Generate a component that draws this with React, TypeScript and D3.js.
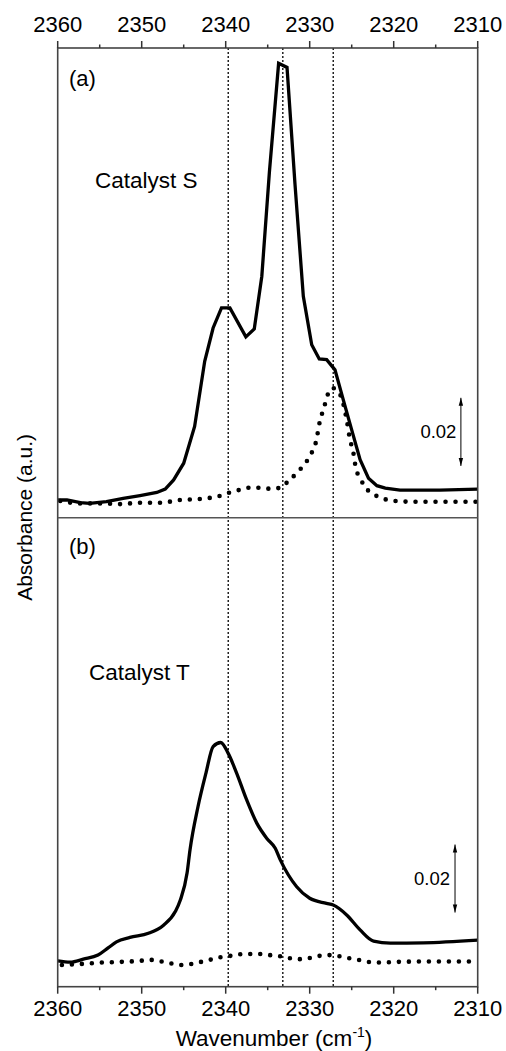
import * as d3 from "d3";

const width = 506,
  height = 1051;
const frame = { left: 57.7, right: 477.7, top: 48, mid: 517.7, bottom: 986.7 };
const font = "'Liberation Sans', Arial, sans-serif";

const majorTicks = [2360, 2350, 2340, 2330, 2320, 2310];
const minorTicks = [2355, 2345, 2335, 2325, 2315];
const markerLines = [2339.7, 2333.2, 2327.2];

// (a) Catalyst S - solid
const waveS = [
  2360, 2358.9, 2357.3, 2356.2, 2354.2, 2352.2, 2350.2, 2348.2, 2347.2, 2346.2, 2345.0,
  2343.7, 2342.5, 2341.5, 2340.5, 2339.5, 2337.6, 2336.6, 2335.7, 2334.8, 2333.7, 2332.7,
  2331.75, 2330.76, 2329.76, 2328.86, 2327.98, 2326.99, 2326.0, 2325.0, 2324.0, 2323.0,
  2322.0, 2321.0, 2319.25, 2314.5, 2310,
];
const absS = [
  0.0052, 0.0052, 0.0044, 0.0042, 0.0047, 0.0057, 0.0065, 0.0074, 0.0084, 0.0111, 0.016,
  0.0268, 0.0459, 0.0557, 0.0616, 0.0616, 0.0531, 0.0554, 0.0709, 0.1014, 0.1334, 0.1322,
  0.0979, 0.065, 0.0508, 0.0466, 0.0464, 0.0434, 0.0346, 0.0258, 0.017, 0.0116,
  0.0094, 0.0087, 0.0081, 0.0081, 0.0084,
];
// (a) Catalyst S - dotted
const waveSRef = [
  2359.7, 2357.3, 2355.0, 2352.6, 2350.2, 2347.8, 2345.4, 2343.1, 2340.7, 2339.5, 2338.3,
  2337.1, 2336.0, 2334.7, 2333.5, 2332.6, 2331.4, 2330.4, 2329.7, 2329.25, 2328.8, 2328.3,
  2327.8, 2327.35, 2326.75, 2326.15, 2325.6, 2325.2, 2324.85, 2324.5, 2324.0, 2323.05,
  2322.2, 2321.0, 2319.8, 2318.0, 2310,
];
const absSRef = [
  0.0049, 0.0042, 0.0042, 0.004, 0.0044, 0.0044, 0.0052, 0.0055, 0.0064, 0.0074, 0.0082,
  0.0088, 0.0088, 0.0085, 0.0088, 0.0106, 0.0135, 0.0164, 0.0194, 0.0223, 0.0282, 0.0323,
  0.0365, 0.0381, 0.0374, 0.0347, 0.0288, 0.0229, 0.0197, 0.0145, 0.0116, 0.008,
  0.0066, 0.0054, 0.0049, 0.0047, 0.0047,
];

// (b) Catalyst T - solid
const waveT = [
  2360, 2358.5, 2356.95, 2355.2, 2354.0, 2353.0, 2351.4, 2349.2, 2347.4, 2346.0, 2345.4,
  2344.6, 2344.25, 2343.3, 2342.35, 2341.5, 2340.6, 2339.7, 2338.7, 2337.5, 2336.3, 2335.1,
  2334.1, 2333.5, 2331.55, 2330.0, 2328.0, 2327.2, 2325.6, 2324.0, 2322.4, 2320.4,
  2316.5, 2310,
];
const absT = [
  0.0076, 0.0072, 0.0081, 0.0093, 0.0114, 0.0132, 0.0145, 0.0157, 0.0181, 0.0221, 0.0255,
  0.0334, 0.0402, 0.0529, 0.0628, 0.0706, 0.0718, 0.0686, 0.0628, 0.0549, 0.0481, 0.0436,
  0.0407, 0.0373, 0.0294, 0.026, 0.0245, 0.024, 0.0211, 0.0167, 0.0134, 0.0128,
  0.0129, 0.0137,
];
// (b) Catalyst T - dotted
const waveTRef = [
  2359.5, 2357.1, 2354.8, 2352.4, 2350.2, 2349.0, 2347.8, 2346.6, 2345.4, 2344.25, 2343.1,
  2341.9, 2340.8, 2339.6, 2338.4, 2337.2, 2336.0, 2334.8, 2333.6, 2332.4, 2331.2, 2330.05,
  2329.0, 2327.8, 2326.6, 2325.4, 2324.2, 2323.0, 2321.8, 2319.45, 2317.1, 2314.7,
  2312.3, 2310,
];
const absTRef = [
  0.0064, 0.0067, 0.0071, 0.0073, 0.0076, 0.0079, 0.0075, 0.0069, 0.0064, 0.0066, 0.0072,
  0.0079, 0.0086, 0.009, 0.0095, 0.0096, 0.0096, 0.0093, 0.009, 0.0084, 0.0081, 0.0084,
  0.009, 0.0093, 0.009, 0.0084, 0.0079, 0.0073, 0.0071, 0.0073, 0.0074, 0.0074,
  0.0074, 0.0074,
];

const x = d3.scaleLinear().domain([2360, 2310]).range([frame.left, frame.right]);
const yA = d3.scaleLinear().domain([0, 0.1379]).range([frame.mid, frame.top]);
const yB = d3.scaleLinear().domain([0, 0.1379]).range([frame.bottom, frame.mid]);

const makeLine = (ws: number[], as: number[], y: any, curve: any) =>
  d3
    .line<number>()
    .x((w) => x(w))
    .y((_, i) => y(as[i]))
    .curve(curve)(ws) as string;

const ScaleBar = ({ w, from, y, tx }: { w: number; from: number; y: any; tx: number }) => {
  const bx = x(w);
  const y1 = y(from);
  const y2 = y(from + 0.02);
  const mid = (y1 + y2) / 2;
  return (
    <g>
      <line x1={bx} x2={bx} y1={y1} y2={y2} stroke="#000" strokeWidth={1} />
      <path d={`M${bx},${y2} L${bx - 2.2},${y2 + 8} L${bx + 2.2},${y2 + 8} Z`} fill="#000" />
      <path d={`M${bx},${y1} L${bx - 2.2},${y1 - 8} L${bx + 2.2},${y1 - 8} Z`} fill="#000" />
      <text x={bx + tx} y={mid + 6.5} textAnchor="end" fontSize={18.5} fontFamily={font}>
        0.02
      </text>
    </g>
  );
};

const App = () => {
  const solidA = makeLine(waveS, absS, yA, d3.curveLinear);
  const dotA = makeLine(waveSRef, absSRef, yA, d3.curveMonotoneX);
  const solidB = makeLine(waveT, absT, yB, d3.curveMonotoneX);
  const dotB = makeLine(waveTRef, absTRef, yB, d3.curveMonotoneX);

  return (
    <svg width={width} height={height} style={{ position: "absolute", left: 0, top: 0 }}>
      <rect width={width} height={height} fill="#fff" />

      {markerLines.map((w) => (
        <line
          key={w}
          x1={x(w)}
          x2={x(w)}
          y1={frame.top}
          y2={frame.bottom}
          stroke="#000"
          strokeWidth={1.3}
          strokeDasharray="2 2"
        />
      ))}

      <path d={dotA} fill="none" stroke="#000" strokeWidth={4.6} strokeDasharray="0 10" strokeLinecap="round" />
      <path d={solidA} fill="none" stroke="#000" strokeWidth={3.3} strokeLinejoin="miter" />
      <path d={dotB} fill="none" stroke="#000" strokeWidth={4.6} strokeDasharray="0 10" strokeLinecap="round" />
      <path d={solidB} fill="none" stroke="#000" strokeWidth={3.3} />

      {/* frame */}
      <rect
        x={frame.left}
        y={frame.top}
        width={frame.right - frame.left}
        height={frame.bottom - frame.top}
        fill="none"
        stroke="#444"
        strokeWidth={1.6}
      />
      <line x1={frame.left} x2={frame.right} y1={frame.mid} y2={frame.mid} stroke="#555" strokeWidth={1.6} />

      {/* ticks */}
      {majorTicks.map((t) => (
        <g key={t}>
          <line x1={x(t)} x2={x(t)} y1={frame.top} y2={frame.top - 7} stroke="#333" strokeWidth={1.5} />
          <line x1={x(t)} x2={x(t)} y1={frame.bottom} y2={frame.bottom + 7} stroke="#333" strokeWidth={1.5} />
          <text x={x(t)} y={31.5} textAnchor="middle" fontSize={22} fontFamily={font}>
            {t}
          </text>
          <text x={x(t)} y={1016} textAnchor="middle" fontSize={22} fontFamily={font}>
            {t}
          </text>
        </g>
      ))}
      {minorTicks.map((t) => (
        <g key={t}>
          <line x1={x(t)} x2={x(t)} y1={frame.top} y2={frame.top - 3.5} stroke="#333" strokeWidth={1.5} />
          <line x1={x(t)} x2={x(t)} y1={frame.bottom} y2={frame.bottom + 3.5} stroke="#333" strokeWidth={1.5} />
        </g>
      ))}

      {/* labels */}
      <text x={274} y={1046} textAnchor="middle" fontSize={22.5} fontFamily={font}>
        Wavenumber (cm<tspan dy={-9} fontSize={14}>-1</tspan>
        <tspan dy={9}>)</tspan>
      </text>
      <text
        transform={`translate(32,${(frame.top + frame.bottom) / 2}) rotate(-90)`}
        textAnchor="middle"
        fontSize={21}
        fontFamily={font}
      >
        Absorbance (a.u.)
      </text>

      <text x={69} y={86} fontSize={22} fontFamily={font}>(a)</text>
      <text x={69} y={554} fontSize={22} fontFamily={font}>(b)</text>
      <text x={95} y={188} fontSize={22.5} fontFamily={font}>Catalyst S</text>
      <text x={89} y={680} fontSize={22.5} fontFamily={font}>Catalyst T</text>

      <ScaleBar w={2312.0} from={0.0152} y={yA} tx={-4.5} />
      <ScaleBar w={2312.7} from={0.0218} y={yB} tx={-5} />
    </svg>
  );
};

export default App;
